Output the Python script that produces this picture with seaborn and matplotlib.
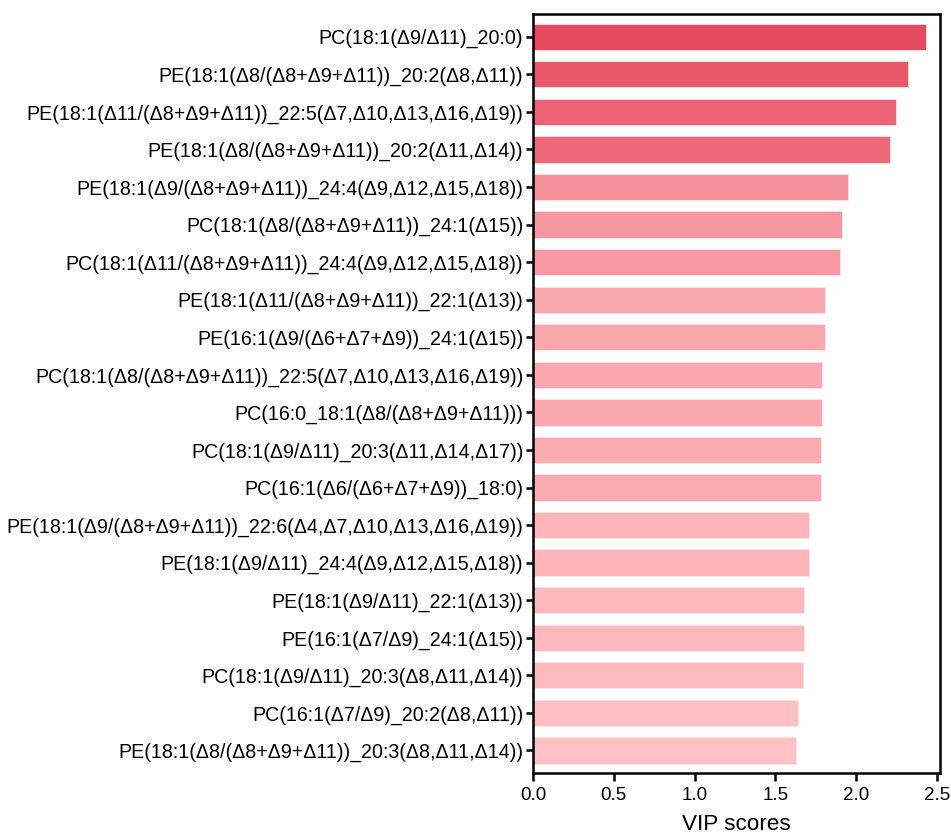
import numpy as np
import pandas as pd
import matplotlib
matplotlib.use("Agg")
import matplotlib.pyplot as plt
import seaborn as sns
from matplotlib.colors import LinearSegmentedColormap, Normalize

lipids = [
    "PC(18:1(Δ9/Δ11)_20:0)",
    "PE(18:1(Δ8/(Δ8+Δ9+Δ11))_20:2(Δ8,Δ11))",
    "PE(18:1(Δ11/(Δ8+Δ9+Δ11))_22:5(Δ7,Δ10,Δ13,Δ16,Δ19))",
    "PE(18:1(Δ8/(Δ8+Δ9+Δ11))_20:2(Δ11,Δ14))",
    "PE(18:1(Δ9/(Δ8+Δ9+Δ11))_24:4(Δ9,Δ12,Δ15,Δ18))",
    "PC(18:1(Δ8/(Δ8+Δ9+Δ11))_24:1(Δ15))",
    "PC(18:1(Δ11/(Δ8+Δ9+Δ11))_24:4(Δ9,Δ12,Δ15,Δ18))",
    "PE(18:1(Δ11/(Δ8+Δ9+Δ11))_22:1(Δ13))",
    "PE(16:1(Δ9/(Δ6+Δ7+Δ9))_24:1(Δ15))",
    "PC(18:1(Δ8/(Δ8+Δ9+Δ11))_22:5(Δ7,Δ10,Δ13,Δ16,Δ19))",
    "PC(16:0_18:1(Δ8/(Δ8+Δ9+Δ11)))",
    "PC(18:1(Δ9/Δ11)_20:3(Δ11,Δ14,Δ17))",
    "PC(16:1(Δ6/(Δ6+Δ7+Δ9))_18:0)",
    "PE(18:1(Δ9/(Δ8+Δ9+Δ11))_22:6(Δ4,Δ7,Δ10,Δ13,Δ16,Δ19))",
    "PE(18:1(Δ9/Δ11)_24:4(Δ9,Δ12,Δ15,Δ18))",
    "PE(18:1(Δ9/Δ11)_22:1(Δ13))",
    "PE(16:1(Δ7/Δ9)_24:1(Δ15))",
    "PC(18:1(Δ9/Δ11)_20:3(Δ8,Δ11,Δ14))",
    "PC(16:1(Δ7/Δ9)_20:2(Δ8,Δ11))",
    "PE(18:1(Δ8/(Δ8+Δ9+Δ11))_20:3(Δ8,Δ11,Δ14))",
]
vip = [2.43, 2.32, 2.25, 2.21, 1.95, 1.91, 1.90, 1.81, 1.81, 1.79,
       1.79, 1.78, 1.78, 1.71, 1.71, 1.68, 1.68, 1.67, 1.64, 1.63]

df = pd.DataFrame({"lipid": lipids, "vip": vip})

# colour each bar by its score, light pink -> red
cmap = LinearSegmentedColormap.from_list("pinkred", ["#FFC1C4", "#E6485E"])
norm = Normalize(vmin=min(vip), vmax=max(vip))
colors = [cmap(norm(v)) for v in vip]

plt.rcParams["font.family"] = ["Liberation Sans", "DejaVu Sans"]

fig = plt.figure(figsize=(9.51, 8.33), dpi=100)
ax = fig.add_axes([0.5605, 0.072, 0.428, 0.911])

sns.barplot(data=df, x="vip", y="lipid", hue="lipid", palette=colors,
            legend=False, width=0.7, saturation=1, ax=ax,
            edgecolor="#FFE4E6", linewidth=0.6)

ax.set_xlim(0, 2.52)
ax.set_ylim(19.6, -0.6)
ax.set_xticks([0, 0.5, 1.0, 1.5, 2.0, 2.5])
ax.set_xticklabels(["0.0", "0.5", "1.0", "1.5", "2.0", "2.5"])
ax.set_xlabel("VIP scores", fontsize=16.2, labelpad=7)
ax.set_ylabel("")

for s in ax.spines.values():
    s.set_linewidth(1.8)
    s.set_color("black")
ax.tick_params(axis="y", length=5, width=1.8, labelsize=14.1, pad=2)
ax.tick_params(axis="x", length=6, width=1.8, labelsize=13.5, pad=4)

fig.savefig("out.png", dpi=100)
